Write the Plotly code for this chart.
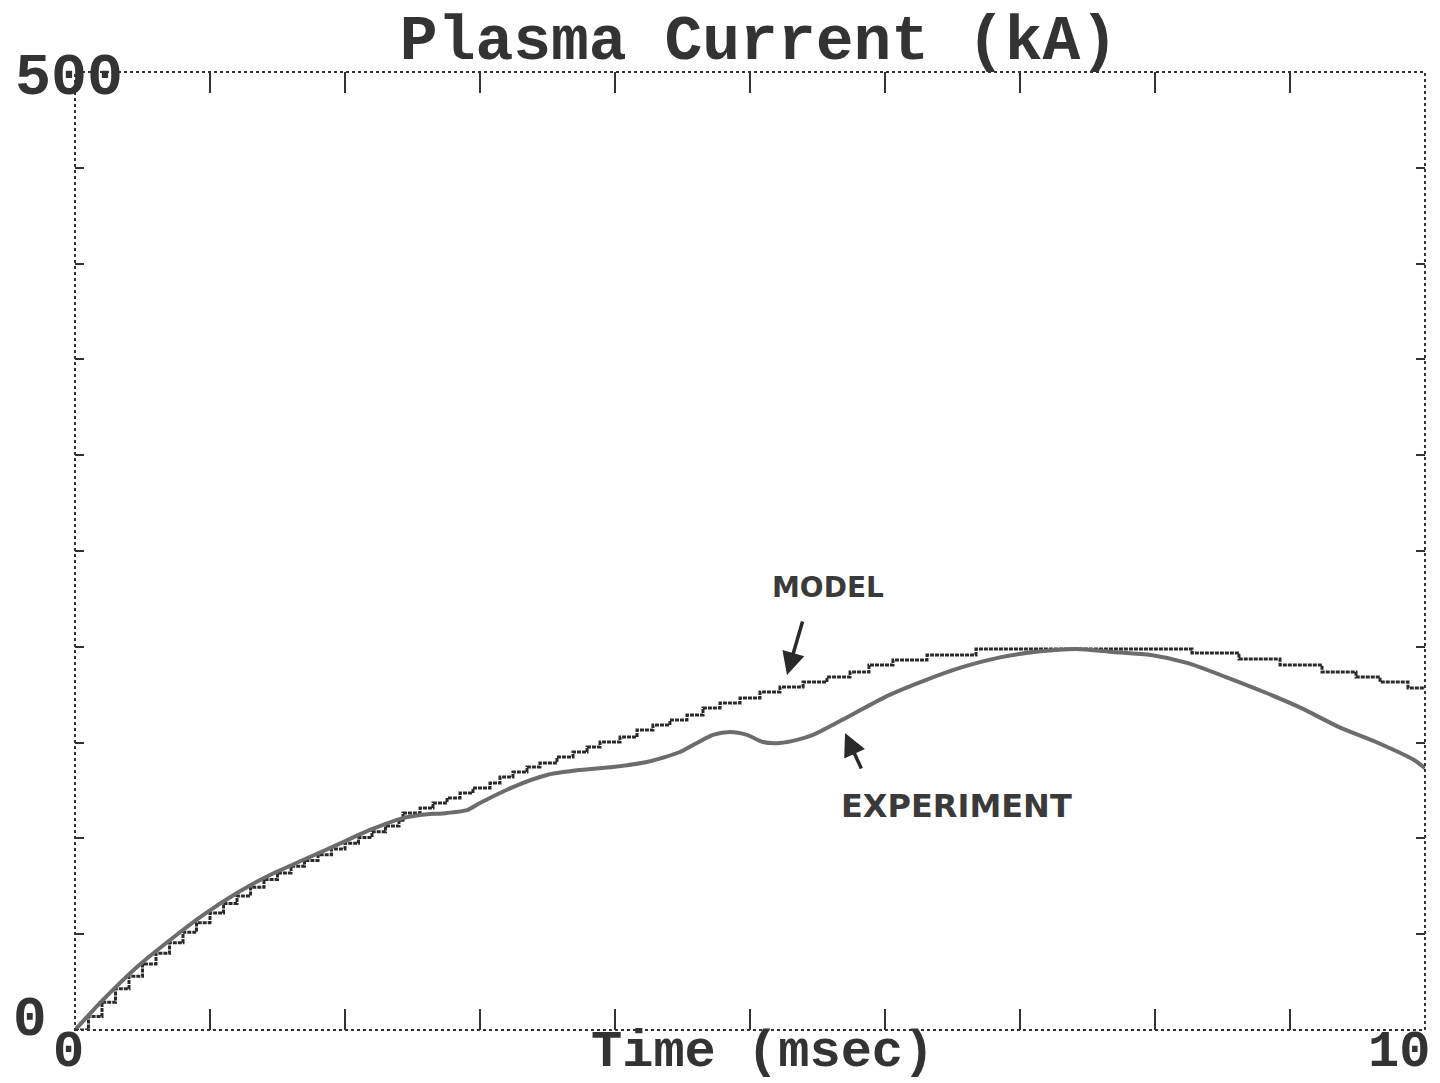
import plotly.graph_objects as go

# ---- data ----
exp_t = [0, 0.207, 0.459, 0.704, 0.948, 1.2, 1.444, 1.689, 1.941, 2.185, 2.43, 2.556,
         2.756, 2.904, 3.0, 3.244, 3.496, 3.741, 3.985, 4.237, 4.481, 4.607, 4.726, 4.852,
         4.978, 5.096, 5.222, 5.348, 5.467, 5.741, 6.022, 6.296, 6.578, 6.852, 7.133,
         7.415, 7.689, 7.97, 8.244, 8.526, 8.807, 9.081, 9.363, 9.637, 9.919, 10.0]
exp_i = [0, 15.7, 32.9, 47.0, 60.0, 71.5, 80.9, 88.7, 96.6, 104.4, 110.6, 112.2,
         113.3, 114.8, 118.5, 126.8, 133.1, 135.7, 137.3, 139.9, 145.1, 149.8, 154.0, 155.5,
         154.0, 150.3, 149.8, 151.4, 154.0, 164.0, 174.5, 182.5, 189.5, 194.5, 197.5,
         198.9, 197.3, 195.7, 191.5, 184.2, 176.4, 168.1, 158.1, 150.3, 140.9, 136.7]

model_t = [0, 0.1, 0.2, 0.3, 0.4, 0.5, 0.6, 0.7, 0.8, 0.9, 1.0, 1.1, 1.2, 1.3, 1.4, 1.5,
           1.6, 1.7, 1.8, 1.9, 2.0, 2.1, 2.2, 2.3, 2.4, 2.43, 2.556, 2.652,
           2.756, 2.852, 2.948, 3.074, 3.148, 3.244, 3.348, 3.444, 3.57, 3.689, 3.793,
           3.889, 4.037, 4.163, 4.281, 4.407, 4.533, 4.652, 4.778, 4.926, 5.074, 5.222,
           5.393, 5.57, 5.741, 5.881, 6.059, 6.311, 6.674, 8.274, 8.622, 8.926, 9.237,
           9.489, 9.667, 9.874, 10.0]
model_i = [0, 7, 14.5, 21.5, 28, 34.5, 40, 45.5, 51, 56, 61, 66, 70, 74.5, 78.5, 82,
           85.5, 88.5, 91.5, 94.5, 97.5, 100.5, 103.5, 106.5, 109.5, 113.3, 115.9, 118.5,
           121.1, 123.7, 126.3, 128.9, 132.0, 134.7, 137.3, 139.4, 142.5, 145.1, 147.7,
           150.3, 152.9, 156.6, 159.2, 161.8, 164.4, 168.1, 170.7, 173.3, 176.4, 179.0,
           181.6, 184.2, 186.8, 190.5, 193.1, 195.7, 198.9, 196.8, 193.6, 190.5, 186.8,
           184.2, 181.6, 178.5, 178.5]

x_ticks = list(range(0, 11))
y_ticks = list(range(0, 501, 50))
title_text = "Plasma Current (kA)"
x_title = "Time (msec)"
x_end_labels = ["0", "10"]
y_end_labels = ["0", "500"]

INK = "#333333"
MONO = "Liberation Mono"

fig = go.Figure()
fig.add_trace(go.Scatter(x=model_t, y=model_i, mode="lines", name="Model",
                         line=dict(color="#2a2a2a", width=3, shape="hv", dash="4px,1px")))
fig.add_trace(go.Scatter(x=exp_t, y=exp_i, mode="lines", name="Experiment",
                         line=dict(color="#6c6c6c", width=4, shape="spline", smoothing=0.7)))

fig.update_layout(
    width=1440, height=1083,
    margin=dict(l=75, r=15, t=72, b=53),
    paper_bgcolor="white", plot_bgcolor="white",
    showlegend=False,
    title=dict(text=title_text, x=759/1440, xanchor="center", xref="container",
               y=1 - 37/1083, yref="container", yanchor="middle",
               font=dict(family=MONO, size=63, color=INK, weight="bold")),
    xaxis=dict(range=[0, 10], tickvals=x_ticks, showticklabels=False, showgrid=False,
               zeroline=False, ticks="inside", ticklen=21, tickwidth=2, tickcolor=INK,
               mirror="ticks", showline=False),
    yaxis=dict(range=[0, 500], tickvals=y_ticks, showticklabels=False, showgrid=False,
               zeroline=False, ticks="inside", ticklen=9, tickwidth=2, tickcolor=INK,
               mirror="ticks", showline=False),
)

# dotted frame
fig.add_shape(type="rect", xref="paper", yref="paper", x0=0, x1=1, y0=0, y1=1,
              line=dict(color=INK, width=2, dash="dot"))

lab_font = dict(family=MONO, size=52, color=INK, weight="bold")
# bottom labels
fig.add_annotation(x=x_ticks[0], y=0, xref="x", yref="paper", text=x_end_labels[0],
                   showarrow=False, xanchor="center", yanchor="middle",
                   xshift=-7, yshift=-22, font=lab_font)
fig.add_annotation(x=5, y=0, xref="x", yref="paper", text=x_title,
                   showarrow=False, xanchor="center", yanchor="middle",
                   xshift=12, yshift=-22, font=lab_font)
fig.add_annotation(x=x_ticks[-1], y=0, xref="x", yref="paper", text=x_end_labels[1],
                   showarrow=False, xanchor="right", yanchor="middle",
                   xshift=7, yshift=-22, font=lab_font)
# left labels
fig.add_annotation(x=0, y=y_ticks[0], xref="paper", yref="y", text=y_end_labels[0],
                   showarrow=False, xanchor="center", yanchor="middle",
                   xshift=-45, yshift=10, font=dict(family=MONO, size=56, color=INK, weight="bold"))
fig.add_annotation(x=0, y=y_ticks[-1], xref="paper", yref="y", text=y_end_labels[1],
                   showarrow=False, xanchor="center", yanchor="middle",
                   xshift=-6, yshift=-6, font=dict(family=MONO, size=60, color=INK, weight="bold"))

# hand-written annotations
hand = dict(family="DejaVu Sans", color="#3a3a3a", weight="bold")
fig.add_annotation(x=5.578, y=230.9, text="MODEL", showarrow=False,
                   font=dict(size=28, **hand))
fig.add_annotation(x=5.274, y=185.3, text="", showarrow=True, ax=16, ay=-55,
                   arrowhead=2, arrowsize=1.3, arrowwidth=3.5, arrowcolor="#2a2a2a")
fig.add_annotation(x=6.533, y=116.9, text="EXPERIMENT", showarrow=False,
                   font=dict(size=32, **hand))
fig.add_annotation(x=5.704, y=155.0, text="", showarrow=True, ax=17, ay=37,
                   arrowhead=2, arrowsize=1.3, arrowwidth=3.5, arrowcolor="#2a2a2a")

fig.write_html("out.html")
